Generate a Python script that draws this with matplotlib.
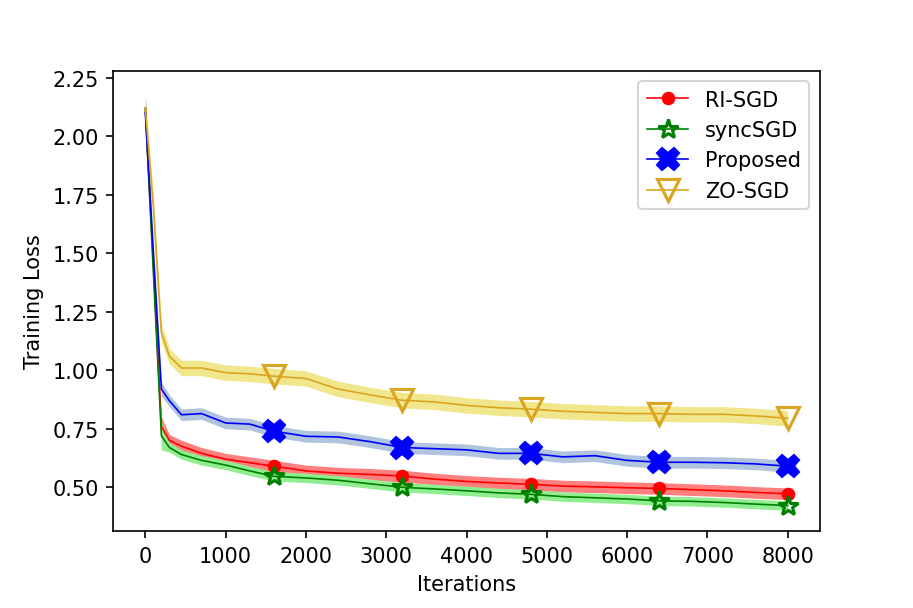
import matplotlib
matplotlib.use("Agg")
import matplotlib.pyplot as plt
import numpy as np

iters = [0, 100, 200, 300, 450, 700, 1000, 1300, 1600, 2000, 2400, 2800, 3200,
         3600, 4000, 4400, 4800, 5200, 5600, 6000, 6400, 6800, 7200, 7600, 8000]

ri_sgd = [2.12, 1.45, 0.76, 0.70, 0.676, 0.645, 0.62, 0.605, 0.59, 0.57, 0.56, 0.555, 0.548,
          0.535, 0.525, 0.518, 0.513, 0.505, 0.502, 0.498, 0.495, 0.49, 0.485, 0.478, 0.472]
sync_sgd = [2.12, 1.42, 0.72, 0.67, 0.64, 0.615, 0.595, 0.57, 0.547, 0.54, 0.53, 0.515, 0.50,
            0.493, 0.485, 0.476, 0.47, 0.46, 0.455, 0.45, 0.442, 0.44, 0.435, 0.428, 0.422]
proposed = [2.10, 1.50, 0.92, 0.87, 0.81, 0.815, 0.775, 0.77, 0.74, 0.718, 0.715, 0.695, 0.67,
            0.665, 0.66, 0.645, 0.645, 0.63, 0.635, 0.615, 0.607, 0.607, 0.605, 0.60, 0.59]
zo_sgd = [2.12, 1.70, 1.16, 1.06, 1.01, 1.01, 0.99, 0.985, 0.975, 0.965, 0.92, 0.895, 0.872,
          0.865, 0.85, 0.84, 0.834, 0.825, 0.82, 0.815, 0.815, 0.812, 0.812, 0.805, 0.795]

# half-width of the shaded bands
ri_std = [0.04, 0.04, 0.04] + [0.025] * 22
sync_std = [0.04, 0.05, 0.06] + [0.02] * 22
prop_std = [0.07, 0.05, 0.03] + [0.025] * 22
zo_std = [0.05, 0.05, 0.04] + [0.033] * 22

mark_at = [1600, 3200, 4800, 6400, 8000]

x = np.array(iters)
marks = [iters.index(m) for m in mark_at]

fig, ax = plt.subplots(figsize=(913 / 150, 609 / 150), dpi=150)
fig.subplots_adjust(left=0.124, right=0.898, top=0.882, bottom=0.126)

series = [
    ("RI-SGD", ri_sgd, ri_std, "red", "red", 0.5, dict(marker="o", ms=5.5, mfc="red")),
    ("syncSGD", sync_sgd, sync_std, "green", "lightgreen", 1.0,
     dict(marker="*", ms=10, mfc="none", mew=1.5)),
    ("Proposed", proposed, prop_std, "blue", "lightsteelblue", 1.0, dict(marker="X", ms=11, mfc="blue")),
    ("ZO-SGD", zo_sgd, zo_std, "goldenrod", "khaki", 1.0,
     dict(marker="v", ms=11, mfc="none", mew=1.5)),
]

for name, y, s, col, band, alpha, mk in series:
    y = np.array(y)
    s = np.array(s)
    ax.fill_between(x, y - s, y + s, color=band, alpha=alpha, linewidth=0)

for name, y, s, col, band, alpha, mk in series:
    ax.plot(x, y, color=col, lw=0.8, markevery=marks, mec=col, label=name, **mk)

ax.set_xlim(-400, 8400)
ax.set_ylim(0.312, 2.28)
ax.set_xticks(range(0, 8001, 1000))
ax.set_yticks(np.arange(0.5, 2.26, 0.25))
ax.yaxis.set_major_formatter(matplotlib.ticker.FormatStrFormatter("%.2f"))
ax.set_xlabel("Iterations")
ax.set_ylabel("Training Loss")
ax.legend(loc="upper right")

fig.savefig("out.png", dpi=150)
